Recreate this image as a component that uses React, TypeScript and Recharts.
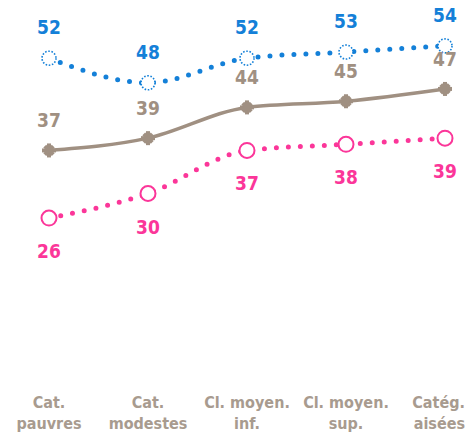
import { LabelList, Line, LineChart, XAxis, YAxis } from 'recharts';

const categories = ['Cat.|pauvres', 'Cat.|modestes', 'Cl. moyen.|inf.', 'Cl. moyen.|sup.', 'Catég.|aisées'];
const blueValues = [52, 48, 52, 53, 54];
const grayValues = [37, 39, 44, 45, 47];
const pinkValues = [26, 30, 37, 38, 39];

const BLUE = '#1480d8';
const GRAY = '#a09082';
const PINK = '#fb3699';
const FONT = '"DejaVu Sans Condensed", "DejaVu Sans", sans-serif';

const data = categories.map((c, i) => ({
  cat: c,
  blue: blueValues[i],
  gray: grayValues[i],
  pink: pinkValues[i],
}));

function makeLabel(color: string, dy: number) {
  return (props: any) => {
    const { x, y, value } = props;
    return (
      <text
        x={x}
        y={y + dy}
        textAnchor="middle"
        dominantBaseline="central"
        fill={color}
        fontFamily={FONT}
        fontWeight="bold"
        fontSize={19}
      >
        {value}
      </text>
    );
  };
}

function BlueDot(props: any) {
  const { cx, cy } = props;
  return (
    <circle cx={cx} cy={cy} r={7} fill="#fff" stroke={BLUE} strokeWidth={1.6} strokeDasharray="1.6 1.6" />
  );
}

function PinkDot(props: any) {
  const { cx, cy } = props;
  return <circle cx={cx} cy={cy} r={7.5} fill="#fff" stroke={PINK} strokeWidth={2} />;
}

function GrayDot(props: any) {
  const { cx, cy } = props;
  return (
    <g fill={GRAY}>
      <rect x={cx - 7} y={cy - 2} width={14} height={4} />
      <rect x={cx - 2} y={cy - 7} width={4} height={14} />
      <rect x={cx - 6} y={cy - 2} width={12} height={4} transform={`rotate(45 ${cx} ${cy})`} />
      <rect x={cx - 6} y={cy - 2} width={12} height={4} transform={`rotate(-45 ${cx} ${cy})`} />
    </g>
  );
}

function CatTick(props: any) {
  const { x, payload, index } = props;
  const lines = String(payload.value).split('|');
  const last = index === categories.length - 1;
  const tx = last ? 465 : x;
  return (
    <text
      x={tx}
      textAnchor={last ? 'end' : 'middle'}
      fill="#a89b8f"
      fontFamily={FONT}
      fontWeight="bold"
      fontSize={16}
    >
      {lines.map((l, i) => (
        <tspan key={i} x={tx} y={402 + i * 21} dominantBaseline="central">
          {l}
        </tspan>
      ))}
    </text>
  );
}

export default function App() {
  return (
    <div style={{ position: 'fixed', left: 0, top: 0, background: '#fff' }}>
      <LineChart
        width={467}
        height={435}
        data={data}
        margin={{ top: 9, right: 22, bottom: 0, left: 49 }}
      >
        <XAxis
          dataKey="cat"
          height={57}
          axisLine={false}
          tickLine={false}
          interval={0}
          tick={<CatTick />}
        />
        <YAxis hide domain={[0, 60]} />
        <Line
          type="monotone"
          dataKey="gray"
          stroke={GRAY}
          strokeWidth={3.5}
          dot={<GrayDot />}
          activeDot={false}
          isAnimationActive={false}
        >
          <LabelList dataKey="gray" content={makeLabel(GRAY, -30)} />
        </Line>
        <Line
          type="monotone"
          dataKey="blue"
          stroke={BLUE}
          strokeWidth={5}
          strokeLinecap="round"
          strokeDasharray="0 12"
          dot={<BlueDot />}
          activeDot={false}
          isAnimationActive={false}
        >
          <LabelList dataKey="blue" content={makeLabel(BLUE, -31)} />
        </Line>
        <Line
          type="monotone"
          dataKey="pink"
          stroke={PINK}
          strokeWidth={5}
          strokeLinecap="round"
          strokeDasharray="0 12"
          dot={<PinkDot />}
          activeDot={false}
          isAnimationActive={false}
        >
          <LabelList dataKey="pink" content={makeLabel(PINK, 33)} />
        </Line>
      </LineChart>
    </div>
  );
}
